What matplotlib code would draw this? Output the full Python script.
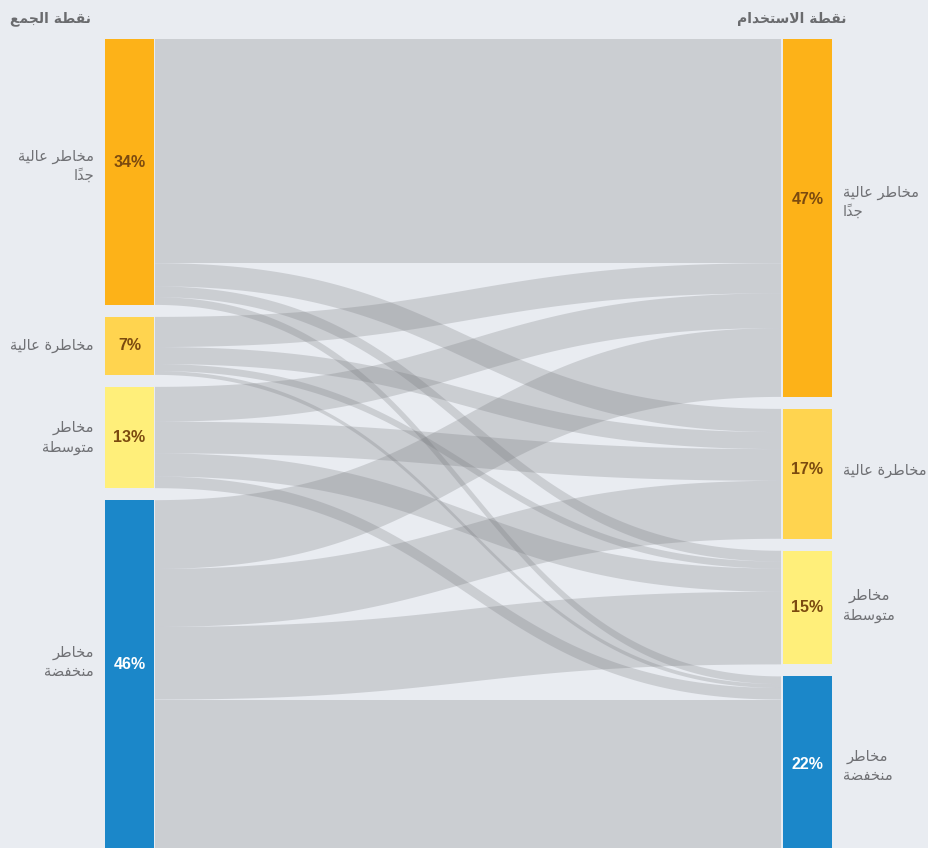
import unicodedata
import numpy as np
import matplotlib
matplotlib.use("Agg")
import matplotlib.pyplot as plt
from matplotlib.patches import Polygon, Rectangle

# ---------------- data ----------------
stages = ["نقطة الجمع", "نقطة الاستخدام"]
categories = ["مخاطر عالية\nجداً", "مخاطرة عالية", "مخاطر\nمتوسطة", "مخاطر\nمنخفضة"]
left_share = [34, 7, 13, 46]
right_share = [47, 17, 15, 22]
# flows[source][target] in % (rows: collection point, cols: use point)
flow_very_high = [29.0, 3.0, 1.4, 1.0]
flow_high = [3.9, 2.2, 0.9, 0.5]
flow_medium = [4.5, 4.1, 3.0, 1.5]
flow_low = [8.9, 7.5, 9.4, 19.2]
flows = np.array([flow_very_high, flow_high, flow_medium, flow_low])

node_colors = ["#FDB218", "#FFD44F", "#FFEF7A", "#1B87C9"]
pct_colors = ["#7B4A0F", "#7B4A0F", "#7B4A0F", "#FFFFFF"]

# ---------------- Arabic shaping (presentation forms) ----------------
FORMS = {
    "ا": ("\uFE8D", "\uFE8E", None, None),
    "ة": ("\uFE93", "\uFE94", None, None),
    "ت": ("\uFE95", "\uFE96", "\uFE97", "\uFE98"),
    "ج": ("\uFE9D", "\uFE9E", "\uFE9F", "\uFEA0"),
    "خ": ("\uFEA5", "\uFEA6", "\uFEA7", "\uFEA8"),
    "د": ("\uFEA9", "\uFEAA", None, None),
    "ر": ("\uFEAD", "\uFEAE", None, None),
    "س": ("\uFEB1", "\uFEB2", "\uFEB3", "\uFEB4"),
    "ض": ("\uFEBD", "\uFEBE", "\uFEBF", "\uFEC0"),
    "ط": ("\uFEC1", "\uFEC2", "\uFEC3", "\uFEC4"),
    "ع": ("\uFEC9", "\uFECA", "\uFECB", "\uFECC"),
    "ف": ("\uFED1", "\uFED2", "\uFED3", "\uFED4"),
    "ق": ("\uFED5", "\uFED6", "\uFED7", "\uFED8"),
    "ل": ("\uFEDD", "\uFEDE", "\uFEDF", "\uFEE0"),
    "م": ("\uFEE1", "\uFEE2", "\uFEE3", "\uFEE4"),
    "ن": ("\uFEE5", "\uFEE6", "\uFEE7", "\uFEE8"),
    "و": ("\uFEED", "\uFEEE", None, None),
    "ي": ("\uFEF1", "\uFEF2", "\uFEF3", "\uFEF4"),
}


def _jt(c):
    if c == "LA":
        return "R"
    f = FORMS.get(c)
    if f is None:
        return "U"
    return "D" if f[2] else "R"


def shape_line(s):
    toks = []
    for ch in s:
        if unicodedata.combining(ch) and toks:
            toks[-1][1] += ch
        else:
            toks.append([ch, ""])
    merged = []
    i = 0
    while i < len(toks):
        if toks[i][0] == "ل" and i + 1 < len(toks) and toks[i + 1][0] == "ا":
            merged.append(["LA", toks[i][1] + toks[i + 1][1]])
            i += 2
        else:
            merged.append(toks[i])
            i += 1
    out = []
    for i, (c, m) in enumerate(merged):
        t = _jt(c)
        if t == "U":
            out.append(c + m)
            continue
        prev = _jt(merged[i - 1][0]) if i > 0 else "U"
        nxt = _jt(merged[i + 1][0]) if i + 1 < len(merged) else "U"
        jp = prev == "D"
        jn = t == "D" and nxt in ("D", "R")
        if c == "LA":
            g = "\uFEFC" if jp else "\uFEFB"
        else:
            iso, fin, ini, med = FORMS[c]
            g = med if (jp and jn) else fin if jp else ini if jn else iso
        out.append(g + m)
    return "".join(reversed(out))


def shape(s):
    return "\n".join(shape_line(l) for l in s.split("\n"))


# ---------------- layout ----------------
W, H = 929, 848
fig = plt.figure(figsize=(W / 100, H / 100), dpi=100)
fig.patch.set_facecolor("#E9ECF1")
ax = fig.add_axes([0, 0, 1, 1])
ax.set_xlim(0, W)
ax.set_ylim(H, 0)
ax.axis("off")

top, bottom, gap = 39, 848, 12
lx0, lx1 = 105, 154
rx0, rx1 = 783, 832
left_tot = flows.sum(axis=1)
right_tot = flows.sum(axis=0)
scale = (bottom - top - gap * 3) / max(left_tot.sum(), right_tot.sum())


def node_positions(tots):
    ys = []
    y = top
    for v in tots:
        ys.append((y, y + v * scale))
        y += v * scale + gap
    return ys


lpos = node_positions(left_tot)
rpos = node_positions(right_tot)

# ribbons
out_start = np.zeros_like(flows)
in_start = np.zeros_like(flows)
for i in range(4):
    y = lpos[i][0]
    for j in range(4):
        out_start[i, j] = y
        y += flows[i, j] * scale
for j in range(4):
    y = rpos[j][0]
    for i in range(4):
        in_start[i, j] = y
        y += flows[i, j] * scale

fx0, fx1 = 155, 781
t = np.linspace(0, 1, 200)
xm = (fx0 + fx1) / 2
bx = (1 - t) ** 3 * fx0 + 3 * (1 - t) ** 2 * t * xm + 3 * (1 - t) * t ** 2 * xm + t ** 3 * fx1
sw = 3 * t ** 2 - 2 * t ** 3
for i in range(4):
    for j in range(4):
        h = flows[i, j] * scale
        if h <= 0:
            continue
        y0, y1 = out_start[i, j], in_start[i, j]
        ytop = y0 + (y1 - y0) * sw
        ybot = ytop + h
        verts = np.vstack([np.column_stack([bx, ytop]), np.column_stack([bx[::-1], ybot[::-1]])])
        ax.add_patch(Polygon(verts, closed=True, facecolor=(0.45, 0.46, 0.475),
                             alpha=0.25, edgecolor="none", linewidth=0))

# nodes
for k in range(4):
    for (x0, x1), pos in (((lx0, lx1), lpos[k]), ((rx0, rx1), rpos[k])):
        ax.add_patch(Rectangle((x0, pos[0]), x1 - x0, pos[1] - pos[0],
                               facecolor=node_colors[k], edgecolor="none"))

left_pct_dy = [-9, 0, 0, -10]
right_pct_dy = [-18, -4, 0, 2]
for k in range(4):
    cy = (lpos[k][0] + lpos[k][1]) / 2
    ax.text((lx0 + lx1) / 2, cy + left_pct_dy[k], f"{left_share[k]}%", ha="center", va="center",
            fontsize=11.5, fontweight="bold", family="Liberation Sans", color=pct_colors[k])
    cy = (rpos[k][0] + rpos[k][1]) / 2
    ax.text((rx0 + rx1) / 2, cy + right_pct_dy[k], f"{right_share[k]}%", ha="center", va="center",
            fontsize=11.5, fontweight="bold", family="Liberation Sans", color=pct_colors[k])

label_color = "#707175"
left_lab_dy = [-6, 0, 0, -12]
right_lab_dy = [-16, -3, -2, 4]
right_align = ["left", "left", "center", "center"]
for k in range(4):
    cy = (lpos[k][0] + lpos[k][1]) / 2
    ax.text(94, cy + left_lab_dy[k], shape(categories[k]), ha="right", va="center",
            multialignment="right", fontsize=10.5, family=["DejaVu Sans"], color=label_color,
            linespacing=1.35)
    cy = (rpos[k][0] + rpos[k][1]) / 2
    ax.text(843, cy + right_lab_dy[k], shape(categories[k]), ha="left", va="center",
            multialignment=right_align[k], fontsize=10.5, family=["DejaVu Sans"], color=label_color,
            linespacing=1.35)

ax.text(10, 19, shape(stages[0]), ha="left", va="center", fontsize=10, fontweight="bold",
        family=["DejaVu Sans"], color="#6A6B6E")
ax.text(847, 19, shape(stages[1]), ha="right", va="center", fontsize=10, fontweight="bold",
        family=["DejaVu Sans"], color="#6A6B6E")

fig.savefig("out.png", dpi=100, facecolor=fig.get_facecolor())
